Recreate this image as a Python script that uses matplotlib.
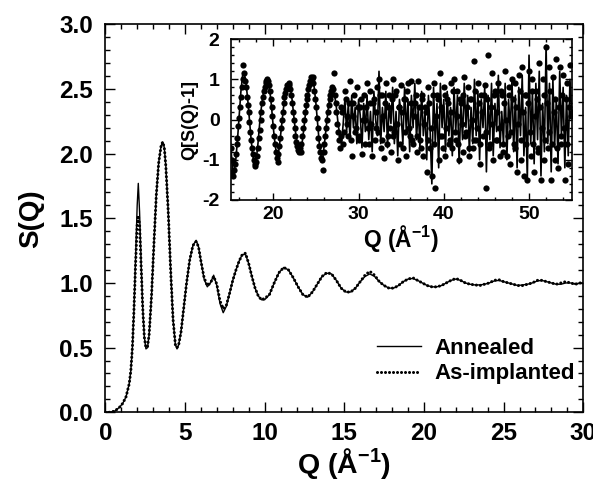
import numpy as np
import matplotlib
matplotlib.use("Agg")
import matplotlib.pyplot as plt
from matplotlib.ticker import MultipleLocator

# main panel: S(Q)
q = [0.0, 0.3, 0.6, 0.9, 1.1, 1.3, 1.5, 1.6, 1.7, 1.8, 1.9, 2.0, 2.07, 2.15, 2.25,
     2.35, 2.45, 2.55, 2.65, 2.75, 2.9, 3.05, 3.2, 3.35, 3.5, 3.6, 3.7, 3.8, 3.95,
     4.1, 4.25, 4.4, 4.5, 4.6, 4.75, 4.9, 5.1, 5.3, 5.5, 5.7, 5.85, 6.0, 6.2, 6.4,
     6.6, 6.8, 7.0, 7.2, 7.4, 7.6, 7.8, 8.0, 8.2, 8.4, 8.6, 8.8, 9.0, 9.2, 9.4, 9.6,
     9.8, 10.0, 10.3, 10.6, 10.9, 11.2, 11.5, 11.8, 12.1, 12.4, 12.7, 13.0, 13.3,
     13.6, 13.9, 14.2, 14.5, 14.8, 15.1, 15.4, 15.7, 16.0, 16.3, 16.6, 16.9, 17.2,
     17.5, 17.8, 18.1, 18.4, 18.7, 19.0, 19.3, 19.6, 19.9, 20.2, 20.5, 20.8, 21.1,
     21.4, 21.7, 22.0, 22.3, 22.6, 22.9, 23.2, 23.5, 23.8, 24.1, 24.4, 24.7, 25.0,
     25.3, 25.6, 25.9, 26.2, 26.5, 26.8, 27.1, 27.4, 27.7, 28.0, 28.3, 28.6, 28.9,
     29.2, 29.5, 29.8, 30.0]

s_annealed = [0.0, 0.0, 0.01, 0.04, 0.07, 0.12, 0.22, 0.32, 0.5, 0.8, 1.2, 1.6, 1.77,
              1.55, 1.15, 0.8, 0.58, 0.49, 0.5, 0.6, 0.9, 1.3, 1.68, 1.93, 2.06, 2.09,
              2.05, 1.9, 1.55, 1.1, 0.72, 0.52, 0.49, 0.52, 0.62, 0.78, 1.0, 1.18, 1.29,
              1.33, 1.28, 1.17, 1.03, 0.97, 1.0, 1.06, 0.98, 0.84, 0.77, 0.82, 0.92,
              1.02, 1.1, 1.17, 1.22, 1.22, 1.15, 1.05, 0.96, 0.9, 0.87, 0.87, 0.91, 1.0,
              1.08, 1.12, 1.1, 1.04, 0.97, 0.91, 0.89, 0.93, 0.99, 1.05, 1.075, 1.07,
              1.02, 0.96, 0.93, 0.93, 0.96, 1.01, 1.05, 1.07, 1.05, 1.01, 0.98, 0.96,
              0.96, 0.98, 1.01, 1.03, 1.035, 1.02, 1.0, 0.98, 0.97, 0.97, 0.98, 1.0,
              1.02, 1.03, 1.02, 1.0, 0.99, 0.985, 0.985, 0.99, 1.0, 1.015, 1.02, 1.01,
              1.0, 0.99, 0.98, 0.985, 0.99, 1.0, 1.015, 1.02, 1.01, 1.0, 0.99, 0.99,
              1.0, 1.0, 0.99, 1.0, 1.0]

s_implanted = [0.0, 0.0, 0.01, 0.04, 0.07, 0.12, 0.22, 0.32, 0.5, 0.8, 1.15, 1.45, 1.52,
               1.45, 1.12, 0.8, 0.58, 0.5, 0.51, 0.6, 0.9, 1.3, 1.68, 1.93, 2.06, 2.09,
               2.05, 1.9, 1.55, 1.1, 0.72, 0.52, 0.5, 0.52, 0.62, 0.78, 1.0, 1.18, 1.29,
               1.32, 1.28, 1.17, 1.04, 0.98, 1.0, 1.05, 0.99, 0.86, 0.8, 0.83, 0.92,
               1.02, 1.1, 1.17, 1.22, 1.23, 1.15, 1.05, 0.96, 0.9, 0.87, 0.88, 0.91, 1.0,
               1.08, 1.12, 1.1, 1.04, 0.97, 0.91, 0.89, 0.93, 0.99, 1.05, 1.08, 1.07,
               1.02, 0.96, 0.93, 0.93, 0.96, 1.01, 1.06, 1.09, 1.06, 1.01, 0.98, 0.96,
               0.96, 0.98, 1.01, 1.03, 1.04, 1.02, 1.0, 0.98, 0.97, 0.97, 0.98, 1.0,
               1.02, 1.035, 1.02, 1.0, 0.99, 0.985, 0.98, 0.99, 1.0, 1.02, 1.025, 1.01,
               1.0, 0.99, 0.98, 0.98, 0.99, 1.0, 1.02, 1.02, 1.01, 1.0, 0.99, 1.0,
               1.01, 1.0, 0.99, 1.0, 1.0]

# inset: Q[S(Q)-1]
inset_q_line = np.linspace(15.0, 55.0, 201)
inset_line = [
    -0.6, -1.2, -1.3, -1.0, -0.5, 0.1, 0.7, 1.1, 1.15, 0.9,
    0.5, 0.0, -0.5, -0.9, -1.1, -1.0, -0.6, -0.1, 0.3, 0.6,
    0.85, 1.0, 0.95, 0.7, 0.3, -0.2, -0.6, -0.9, -0.85, -0.5,
    -0.1, 0.3, 0.6, 0.8, 0.9, 0.8, 0.5, 0.1, -0.3, -0.6,
    -0.75, -0.8, -0.55, -0.2, 0.2, 0.5, 0.8, 0.95, 1.05, 0.8,
    0.4, -0.1, -0.6, -0.9, -0.95, -0.6, -0.2, 0.2, 0.5, 0.7,
    0.75, 0.6, 0.3, -0.1, -0.4, -0.6, -0.1, 0.5, -0.3, 0.4,
    -0.5, 0.6, -0.2, 0.3, -0.6, 0.5, 0.1, -0.7, 0.4, -0.3,
    0.6, -0.5, 0.2, -0.8, 0.7, 0.0, -0.4, 1.2, -0.6, 0.3,
    -0.3, 0.7, -0.7, 0.4, -0.1, 0.8, -0.6, 0.2, -0.9, 0.5,
    0.1, -0.6, 0.8, -0.3, 0.5, -0.8, 0.6, -0.2, 0.9, -0.5,
    0.3, -0.7, 0.7, -0.4, 0.2, -1.0, 0.6, -0.3, -1.6, 0.8,
    -0.6, 0.4, -1.2, 0.9, -0.2, 0.5, -0.8, 0.7, -0.4, 0.3,
    -0.9, 0.8, -0.3, 0.6, -1.1, 0.4, -0.5, 0.9, -0.2, 0.6,
    -0.8, 0.3, -0.6, 1.0, -0.4, 0.7, -1.0, 0.5, -0.2, 0.8,
    -1.3, 0.6, -0.5, 0.9, -0.9, 0.4, -0.3, 1.1, -0.7, 0.2,
    -0.6, 0.9, -1.0, 0.5, -0.3, 1.0, -0.8, 0.6, -1.2, 0.8,
    -0.4, 1.1, -0.9, 0.3, -1.5, 1.6, -0.6, 0.7, -1.1, 0.9,
    -0.5, 1.2, -1.4, 0.4, -0.8, 1.85, -0.6, 0.9, -1.3, 1.0,
    -0.7, 0.5, -1.1, 1.2, -0.4, 0.8, -1.2, 0.6, -0.9, 1.0,
    0.2]

inset_q_dots_a = np.linspace(15.0, 27.9, 130)
inset_dots_a = [
    -0.7, -1.0, -1.3, -1.4, -1.25, -1.1, -0.85, -0.6, -0.45, -0.15,
    0.05, 0.3, 0.55, 0.8, 1.0, 1.35, 1.15, 0.95, 0.8, 0.55,
    0.35, 0.2, -0.05, -0.3, -0.5, -0.7, -0.85, -1.0, -1.1, -1.15,
    -1.05, -0.9, -0.7, -0.45, -0.25, 0.0, 0.2, 0.4, 0.55, 0.7,
    0.8, 0.9, 0.95, 1.0, 0.95, 0.85, 0.7, 0.5, 0.3, 0.1,
    -0.15, -0.4, -0.6, -0.8, -0.95, -1.05, -0.85, -0.65, -0.45, -0.2,
    0.0, 0.2, 0.4, 0.55, 0.65, 0.75, 0.85, 0.8, 0.9, 0.85,
    0.75, 0.6, 0.4, 0.2, 0.0, -0.2, -0.4, -0.55, -0.65, -0.75,
    -0.8, -0.7, -0.8, -0.6, -0.4, -0.2, 0.0, 0.2, 0.35, 0.5,
    0.6, 0.75, 0.85, 0.95, 1.05, 1.0, 1.05, 0.9, 0.7, 0.5,
    0.3, 0.05, -0.2, -0.45, -0.65, -0.8, -0.95, -1.0, -1.25, -0.8,
    -0.6, -0.4, -0.2, 0.0, 0.2, 0.35, 0.5, 0.6, 0.7, 0.8,
    0.75, 1.15, 0.6, 0.4, 0.2, -0.1, -0.3, -0.5, -0.7, -0.4]

inset_q_dots_b = np.linspace(28.0, 55.0, 136)
inset_dots_b = [
    0.3, -0.6, 0.7, 0.1, -0.4, 0.95, -0.9, 0.4, -0.3, 0.8,
    -0.5, 0.3, -0.85, 0.6, 0.0, 0.9, -0.6, 0.4, -0.9, 0.5,
    -0.2, 0.8, 1.0, -0.7, 0.6, -0.95, 0.9, -0.4, 0.6, -0.8,
    1.0, -0.3, 0.7, -1.0, 0.3, 0.85, -0.7, 0.5, -0.9, 0.9,
    -0.4, 0.95, -0.6, 0.4, -0.8, 0.95, -0.5, 0.6, -0.9, 0.3,
    -1.3, 0.8, -0.7, -1.4, 0.9, -1.7, 0.6, -1.0, 1.15, -0.4,
    0.8, -0.9, 0.5, -0.6, 0.9, -0.7, 1.0, -0.5, 0.7, -1.0,
    0.4, -0.8, 1.05, -0.3, 0.8, -0.9, 0.5, -0.7, 1.45, -0.5,
    0.9, -1.1, 0.6, -0.4, 0.85, -1.7, 1.6, -0.6, 1.15, -1.0,
    0.7, -0.5, 0.9, -0.9, 0.6, -0.8, 1.2, -0.9, 0.8, -1.1,
    1.0, -0.6, 0.9, -1.3, 1.1, -1.0, 1.3, -1.4, 0.6, -1.5,
    1.2, -0.9, 1.0, -1.3, 0.7, -0.8, 1.4, -1.5, 1.0, -1.0,
    1.8, -0.7, 1.3, -1.5, 1.05, -1.0, 1.5, -1.2, 1.3, -0.6,
    1.1, -1.5, 0.9, -1.1, 1.35, 0.2]

inset_q_dots_c = np.linspace(28.1, 54.9, 135)
inset_dots_c = [
    0.2, -0.3, 0.5, -0.1, 0.4, -0.5, 0.1, 0.6, -0.2, 0.3,
    -0.4, 0.5, 0.0, -0.6, 0.3, -0.2, 0.7, -0.1, 0.4, -0.5,
    0.2, -0.3, 0.6, -0.5, 0.1, 0.4, -0.6, 0.3, -0.2, 0.5,
    -0.4, 0.6, -0.1, 0.3, -0.6, 0.2, 0.5, -0.3, 0.7, -0.2,
    0.4, -0.5, 0.1, 0.6, -0.4, 0.3, -0.7, 0.5, -0.1, 0.2,
    -0.5, 0.4, -0.2, 0.6, -0.6, 0.1, 0.5, -0.4, 0.3, -0.7,
    0.6, -0.2, 0.4, -0.5, 0.2, 0.7, -0.3, 0.1, -0.6, 0.5,
    -0.1, 0.6, -0.4, 0.3, -0.7, 0.5, 0.0, -0.5, 0.7, -0.2,
    0.4, -0.6, 0.2, 0.6, -0.3, 0.5, -0.7, 0.3, -0.1, 0.6,
    -0.5, 0.2, -0.2, 0.7, -0.6, 0.4, 0.0, -0.4, 0.6, -0.3,
    0.5, -0.7, 0.3, -0.1, 0.7, -0.5, 0.2, 0.6, -0.6, 0.4,
    -0.3, 0.7, -0.6, 0.1, 0.5, -0.7, 0.3, -0.2, 0.6, -0.5,
    0.4, -0.3, 0.7, -0.6, 0.2, 0.5, -0.7, 0.3, -0.4, 0.6,
    -0.2, 0.5, -0.6, 0.3, 0.1]

plt.rcParams.update({
    "font.family": ["Liberation Sans", "DejaVu Sans"],
    "font.weight": "bold",
    "axes.labelweight": "bold",
    "mathtext.fontset": "custom",
    "mathtext.rm": "Liberation Sans:bold",
    "mathtext.default": "rm",
    "axes.unicode_minus": False,
    "axes.linewidth": 1.2,
})

fig = plt.figure(figsize=(5.93, 4.83), dpi=100)
ax = fig.add_axes([0.1776, 0.1464, 0.806, 0.8033])

ax.plot(q, s_annealed, color="black", lw=1.0, label="Annealed")
ax.plot(q, s_implanted, color="black", lw=2.2, linestyle=(0, (0.01, 1.3)),
        dash_capstyle="round", label="As-implanted")

ax.set_xlim(0, 30)
ax.set_ylim(0, 3)
ax.xaxis.set_major_locator(MultipleLocator(5))
ax.xaxis.set_minor_locator(MultipleLocator(1))
ax.yaxis.set_major_locator(MultipleLocator(0.5))
ax.yaxis.set_minor_locator(MultipleLocator(0.1))
ax.yaxis.set_major_formatter(plt.FormatStrFormatter("%.1f"))
ax.tick_params(which="both", direction="in", top=True, right=True, labelsize=17.5, width=1)
ax.tick_params(which="major", length=7)
ax.tick_params(axis="y", which="major", pad=9)
ax.tick_params(axis="x", which="major", pad=7)
ax.tick_params(which="minor", length=3.5)
ax.set_xlabel("Q (Å$^{-1}$)", fontsize=20.5, labelpad=1)
ax.set_ylabel("S(Q)", fontsize=20, labelpad=11)

leg = ax.legend(loc="lower right", bbox_to_anchor=(0.997, 0.055), frameon=False,
                fontsize=16, handlelength=2.0, handletextpad=0.6, labelspacing=0.2,
                borderpad=0.3, borderaxespad=0.0)

# inset
axi = fig.add_axes([0.389, 0.586, 0.575, 0.333])
axi.plot(inset_q_line, inset_line, color="black", lw=1.2)
axi.plot(inset_q_dots_a, inset_dots_a, "o", color="black", ms=4.5, mew=0)
axi.plot(inset_q_dots_b, inset_dots_b, "o", color="black", ms=4.5, mew=0)
axi.plot(inset_q_dots_c, inset_dots_c, "o", color="black", ms=4.5, mew=0)
axi.set_xlim(15, 55)
axi.set_ylim(-2, 2)
axi.xaxis.set_major_locator(MultipleLocator(10))
axi.xaxis.set_minor_locator(MultipleLocator(2))
axi.yaxis.set_major_locator(MultipleLocator(1))
axi.yaxis.set_minor_locator(MultipleLocator(0.2))
axi.tick_params(which="both", direction="in", top=True, right=True, labelsize=14, width=1)
axi.tick_params(which="major", length=5)
axi.tick_params(axis="y", which="major", pad=8)
axi.tick_params(axis="x", which="major", pad=4)
axi.tick_params(which="minor", length=2.5)
axi.set_xlabel("Q (Å$^{-1}$)", fontsize=16.5, labelpad=0)
axi.set_ylabel("Q[S(Q)-1]", fontsize=13, labelpad=3)

fig.savefig("out.png", dpi=100)
